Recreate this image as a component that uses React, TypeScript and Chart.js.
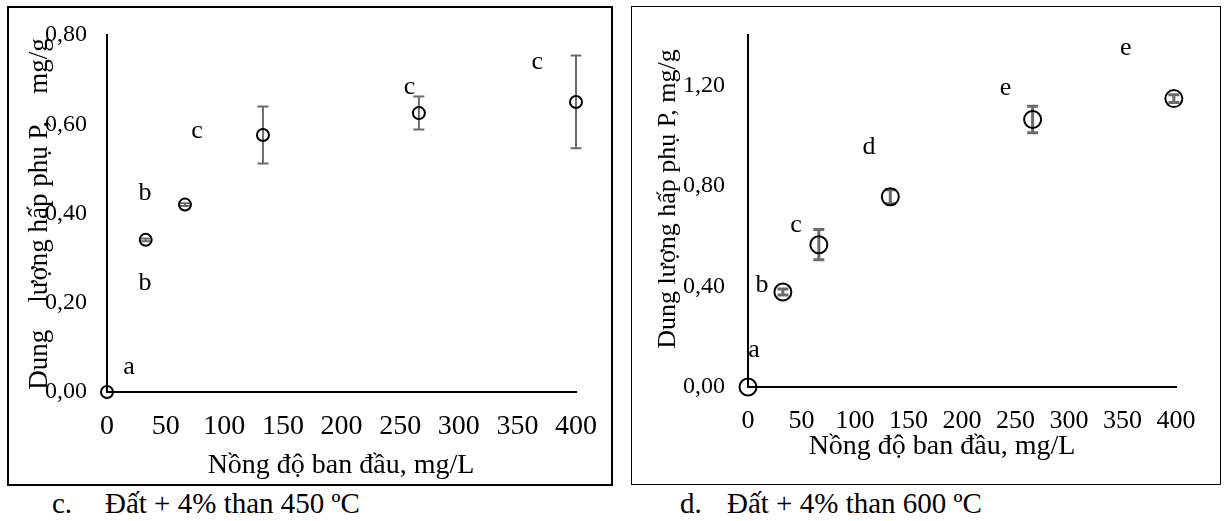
import React, { useEffect, useRef } from 'react';
import { Chart, registerables } from 'chart.js';
Chart.register(...registerables);

const FONT = '"Liberation Serif", "Times New Roman", serif';

// Panel c: Đất + 4% than 450 ºC
const concC = [0, 33, 66.5, 133, 266, 400];
const capC = [0, 0.341, 0.42, 0.576, 0.625, 0.65];
const errC = [0, 0.003, 0.003, 0.064, 0.037, 0.104];
const letterC = ['a', 'b', 'b', 'c', 'c', 'c'];
const letterXC = [18.8, 32.4, 32.4, 76.8, 258, 367];
const letterYC = [0.056, 0.446, 0.244, 0.585, 0.684, 0.738];
const yTicksC = [0, 0.2, 0.4, 0.6, 0.8];

// Panel d: Đất + 4% than 600 ºC
const concD = [0, 32.6, 66.2, 133, 266, 398];
const capD = [0, 0.378, 0.566, 0.757, 1.064, 1.147];
const errD = [0, 0.012, 0.06, 0.028, 0.053, 0.015];
const letterD = ['a', 'b', 'c', 'd', 'e', 'e'];
const letterXD = [5.6, 13, 44.8, 113, 240.6, 353];
const letterYD = [0.147, 0.406, 0.645, 0.952, 1.19, 1.347];
const yTicksD = [0, 0.4, 0.8, 1.2];

const xTicks = [0, 50, 100, 150, 200, 250, 300, 350, 400];

const yTitleC = 'Dung    lượng hấp phụ P,    mg/g';
const yTitleD = 'Dung lượng hấp phụ P, mg/g';
const xTitle = 'Nồng độ ban đầu, mg/L';

type PanelCfg = {
  conc: number[];
  cap: number[];
  err: number[];
  letters: string[];
  lx: number[];
  ly: number[];
  yTicks: number[];
  yMax: number;
  w: number;
  h: number;
  padTop: number;
  padRight: number;
  yWidth: number;
  xHeight: number;
  radius: number;
  errWidth: number;
  yTitle: string;
  yTitlePos: [number, number];
  xTitlePos: [number, number];
  yPad: number;
  xPad: number;
  xTickSize: number;
  yTickSize: number;
  titleSize: number;
  yTitleSize: number;
  letterSize: number;
};

function Panel({ cfg, left, top }: { cfg: PanelCfg; left: number; top: number }) {
  const ref = useRef<HTMLCanvasElement>(null);
  useEffect(() => {
    if (!ref.current) return;
    const overlay = {
      id: 'overlay',
      beforeDatasetsDraw(chart: any) {
        const ctx = chart.ctx;
        const xs = chart.scales.x;
        const ys = chart.scales.y;
        ctx.save();
        ctx.strokeStyle = '#6b6b6b';
        ctx.lineWidth = cfg.errWidth;
        cfg.conc.forEach((x, i) => {
          const e = cfg.err[i];
          if (!e) return;
          const px = xs.getPixelForValue(x);
          const y1 = ys.getPixelForValue(cfg.cap[i] + e);
          const y2 = ys.getPixelForValue(cfg.cap[i] - e);
          ctx.beginPath();
          ctx.moveTo(px, y1);
          ctx.lineTo(px, y2);
          ctx.moveTo(px - 5.5, y1);
          ctx.lineTo(px + 5.5, y1);
          ctx.moveTo(px - 5.5, y2);
          ctx.lineTo(px + 5.5, y2);
          ctx.stroke();
        });
        ctx.restore();
      },
      afterDraw(chart: any) {
        const ctx = chart.ctx;
        const xs = chart.scales.x;
        const ys = chart.scales.y;
        ctx.save();
        ctx.fillStyle = '#000';
        ctx.textAlign = 'center';
        ctx.textBaseline = 'middle';
        ctx.font = `${cfg.letterSize}px ${FONT}`;
        cfg.letters.forEach((t, i) => {
          ctx.fillText(t, xs.getPixelForValue(cfg.lx[i]), ys.getPixelForValue(cfg.ly[i]));
        });
        ctx.font = `${cfg.titleSize}px ${FONT}`;
        ctx.fillText(xTitle, cfg.xTitlePos[0], cfg.xTitlePos[1]);
        ctx.font = `${cfg.yTitleSize}px ${FONT}`;
        ctx.translate(cfg.yTitlePos[0], cfg.yTitlePos[1]);
        ctx.rotate(-Math.PI / 2);
        ctx.fillText(cfg.yTitle, 0, 0);
        ctx.restore();
      },
    };
    const chart = new Chart(ref.current, {
      type: 'scatter',
      data: {
        datasets: [
          {
            data: cfg.conc.map((x, i) => ({ x, y: cfg.cap[i] })),
            pointStyle: 'circle',
            pointRadius: cfg.radius,
            pointBorderColor: '#000',
            pointBackgroundColor: 'rgba(0,0,0,0)',
            pointBorderWidth: 2,
            showLine: false,
            clip: false as any,
          },
        ],
      },
      options: {
        responsive: false,
        animation: false,
        layout: { padding: { top: cfg.padTop, right: cfg.padRight, left: 0, bottom: 0 } },
        plugins: { legend: { display: false }, tooltip: { enabled: false } },
        scales: {
          x: {
            type: 'linear',
            min: 0,
            max: 400,
            afterBuildTicks: (s: any) => {
              s.ticks = xTicks.map((value) => ({ value }));
            },
            afterFit: (s: any) => {
              s.height = cfg.xHeight;
            },
            grid: { display: false, drawTicks: true, tickLength: cfg.xPad },
            border: { display: true, color: '#000', width: 2 },
            ticks: {
              padding: 0,
              color: '#000',
              font: { family: FONT, size: cfg.xTickSize },
              maxRotation: 0,
              autoSkip: false,
            },
          },
          y: {
            type: 'linear',
            min: 0,
            max: cfg.yMax,
            afterBuildTicks: (s: any) => {
              s.ticks = cfg.yTicks.map((value) => ({ value }));
            },
            afterFit: (s: any) => {
              s.width = cfg.yWidth;
            },
            grid: { display: false, drawTicks: true, tickLength: cfg.yPad },
            border: { display: true, color: '#000', width: 2 },
            ticks: {
              padding: 0,
              color: '#000',
              font: { family: FONT, size: cfg.yTickSize },
              autoSkip: false,
              callback: (v: any) => Number(v).toFixed(2).replace('.', ','),
            },
          },
        },
      } as any,
      plugins: [overlay],
    });
    return () => chart.destroy();
  }, []);
  return (
    <canvas
      ref={ref}
      width={cfg.w}
      height={cfg.h}
      style={{ position: 'absolute', left, top, width: cfg.w, height: cfg.h }}
    />
  );
}

const cfgC: PanelCfg = {
  conc: concC,
  cap: capC,
  err: errC,
  letters: letterC,
  lx: letterXC,
  ly: letterYC,
  yTicks: yTicksC,
  yMax: 0.8,
  w: 602,
  h: 476,
  padTop: 27,
  padRight: 35,
  yWidth: 98,
  xHeight: 92,
  radius: 6,
  errWidth: 2,
  yTitle: yTitleC,
  yTitlePos: [31, 206],
  xTitlePos: [332, 458],
  yPad: 20,
  xPad: 18,
  xTickSize: 28,
  yTickSize: 24,
  titleSize: 28,
  yTitleSize: 27,
  letterSize: 26,
};

const cfgD: PanelCfg = {
  conc: concD,
  cap: capD,
  err: errD,
  letters: letterD,
  lx: letterXD,
  ly: letterYD,
  yTicks: yTicksD,
  yMax: 1.4,
  w: 587,
  h: 476,
  padTop: 27,
  padRight: 44,
  yWidth: 115,
  xHeight: 97,
  radius: 8.5,
  errWidth: 3,
  yTitle: yTitleD,
  yTitlePos: [35, 191],
  xTitlePos: [309, 439],
  yPad: 23,
  xPad: 19,
  xTickSize: 26,
  yTickSize: 24,
  titleSize: 28,
  yTitleSize: 26,
  letterSize: 26,
};

const capStyle: React.CSSProperties = {
  position: 'absolute',
  top: 487,
  fontFamily: FONT,
  fontSize: 29,
  lineHeight: '32px',
  whiteSpace: 'nowrap',
  color: '#000',
};

export default function App() {
  return (
    <div style={{ position: 'absolute', left: 0, top: 0, width: 1225, height: 521, background: '#fff' }}>
      <div style={{ position: 'absolute', left: 7, top: 6, width: 602, height: 476, border: '2px solid #000' }} />
      <div style={{ position: 'absolute', left: 631, top: 6, width: 588, height: 477, border: '1.5px solid #000' }} />
      <Panel cfg={cfgC} left={9} top={8} />
      <Panel cfg={cfgD} left={633} top={8} />
      <div style={{ ...capStyle, left: 52 }}>c.</div>
      <div style={{ ...capStyle, left: 105 }}>Đất + 4% than 450 ºC</div>
      <div style={{ ...capStyle, left: 680 }}>d.</div>
      <div style={{ ...capStyle, left: 727 }}>Đất + 4% than 600 ºC</div>
    </div>
  );
}
